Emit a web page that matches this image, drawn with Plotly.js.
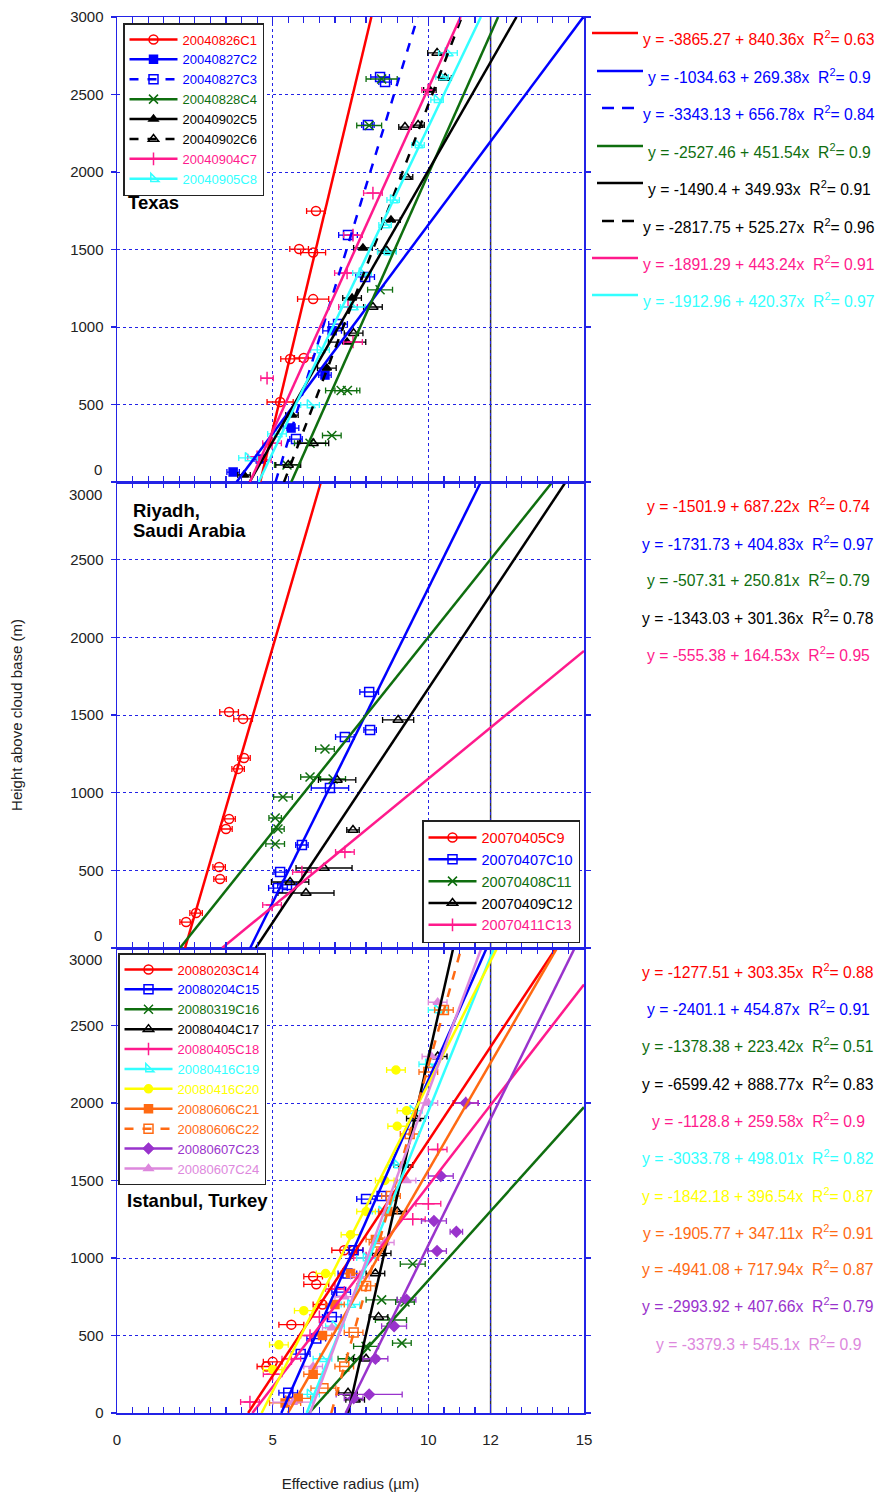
<!DOCTYPE html>
<html><head><meta charset="utf-8">
<script src="https://cdn.plot.ly/plotly-3.0.1.min.js"></script>
<style>body{margin:0;background:#fff}#chart{width:876px;height:1493px}</style>
</head><body><div id="chart"></div>
<script>
// ---------------- DATA ----------------
const xTickVals = [0, 5, 10, 12, 15];
const xTickText = ['0', '5', '10', '12', '15'];
const yTickVals = [0, 500, 1000, 1500, 2000, 2500, 3000];
const yTickText = ['0', '500', '1000', '1500', '2000', '2500', '3000'];

// Texas
const texasNames = ['20040826C1','20040827C2','20040827C3','20040828C4','20040902C5','20040902C6','20040904C7','20040905C8'];
const texasIntercepts = [-3865.27, -1034.63, -3343.13, -2527.46, -1490.4, -2817.75, -1891.29, -1912.96];
const texasSlopes = [840.36, 269.38, 656.78, 451.54, 349.93, 525.27, 443.24, 420.37];
const texasR2 = [0.63, 0.9, 0.84, 0.9, 0.91, 0.96, 0.91, 0.97];
const c1R = [5.24, 5.56, 6.0, 6.3, 5.85, 6.3, 6.39];
const c1H = [516, 794, 800, 1180, 1503, 1480, 1748];
const c1E = [0.42, 0.3, 0.3, 0.5, 0.3, 0.4, 0.3];
const c2R = [3.73, 4.6, 5.59, 6.68, 6.91];
const c2H = [64, 148, 348, 690, 975];
const c2E = [0.2, 0.2, 0.25, 0.2, 0.3];
const c3R = [5.75, 7.1, 7.97, 7.42, 8.06, 8.45, 8.61];
const c3H = [277, 1019, 1323, 1593, 2303, 2613, 2580];
const c3E = [0.2, 0.3, 0.3, 0.3, 0.2, 0.3, 0.2];
const c4R = [5.46, 6.2, 6.9, 7.2, 7.4, 8.45, 8.1, 8.5];
const c4H = [110, 250, 300, 590, 590, 1240, 2300, 2600];
const c4E = [0.4, 0.5, 0.3, 0.5, 0.4, 0.4, 0.4, 0.5];
const c5R = [4.08, 5.62, 6.74, 7.39, 7.55, 7.9, 8.8, 10.05];
const c5H = [45, 432, 735, 903, 1187, 1510, 1690, 2529];
const c5E = [0.2, 0.2, 0.3, 0.6, 0.3, 0.3, 0.3, 0.2];
const c6R = [5.5, 6.3, 7.6, 8.22, 8.67, 9.3, 9.25, 9.67, 10.54, 10.28];
const c6H = [110, 250, 960, 1129, 1490, 1968, 2290, 2303, 2606, 2768];
const c6E = [0.4, 0.5, 0.3, 0.3, 0.3, 0.2, 0.2, 0.2, 0.2, 0.3];
const c7R = [4.5, 4.75, 4.98, 4.82, 7.58, 7.42, 7.39, 7.58, 8.22, 9.99];
const c7H = [163, 142, 250, 670, 903, 1129, 1348, 1593, 1864, 2529];
const c7E = [0.3, 0.2, 0.3, 0.2, 0.3, 0.3, 0.4, 0.3, 0.3, 0.2];
const c8R = [4.21, 5.14, 6.2, 6.52, 7.58, 7.87, 8.67, 8.61, 8.87, 9.67, 10.28, 10.44, 10.63];
const c8H = [155, 310, 497, 852, 1129, 1348, 1484, 1658, 1819, 2174, 2465, 2613, 2768];
const c8E = [0.3, 0.3, 0.3, 0.3, 0.4, 0.3, 0.3, 0.2, 0.2, 0.2, 0.2, 0.2, 0.3];

// Riyadh
const riyadhNames = ['20070405C9','20070407C10','20070408C11','20070409C12','20070411C13'];
const riyadhIntercepts = [-1501.9, -1731.73, -507.31, -1343.03, -555.38];
const riyadhSlopes = [687.22, 404.83, 250.81, 301.36, 164.53];
const riyadhR2 = [0.74, 0.97, 0.79, 0.78, 0.95];
const c9R = [2.22, 2.54, 3.28, 3.31, 3.5, 3.6, 3.89, 4.08, 3.6, 4.05];
const c9H = [167, 225, 522, 444, 766, 831, 1153, 1223, 1520, 1475];
const c9E = [0.2, 0.2, 0.2, 0.2, 0.2, 0.2, 0.2, 0.2, 0.3, 0.3];
const c10R = [5.17, 5.46, 5.24, 5.94, 6.84, 7.32, 8.13, 8.1];
const c10H = [386, 406, 489, 663, 1030, 1359, 1404, 1648];
const c10E = [0.3, 0.3, 0.2, 0.2, 0.6, 0.3, 0.2, 0.3];
const c11R = [5.08, 5.08, 5.17, 5.33, 6.2, 6.94, 6.68];
const c11H = [670, 837, 766, 972, 1101, 1088, 1281];
const c11E = [0.3, 0.2, 0.2, 0.3, 0.3, 0.4, 0.3];
const c12R = [5.56, 6.07, 6.65, 7.58, 7.07, 9.03];
const c12H = [425, 354, 515, 760, 1082, 1468];
const c12E = [0.6, 0.9, 0.9, 0.2, 0.6, 0.5];
const c13R = [4.98, 5.94, 7.32];
const c13H = [277, 489, 618];
const c13E = [0.3, 0.3, 0.3];

// Istanbul
const istNames = ['20080203C14','20080204C15','20080319C16','20080404C17','20080405C18','20080416C19','20080416C20','20080606C21','20080606C22','20080607C23','20080607C24'];
const istIntercepts = [-1277.51, -2401.1, -1378.38, -6599.42, -1128.8, -3033.78, -1842.18, -1905.77, -4941.08, -2993.92, -3379.3];
const istSlopes = [303.35, 454.87, 223.42, 888.77, 259.58, 498.01, 396.54, 347.11, 717.94, 407.66, 545.1];
const istR2 = [0.88, 0.91, 0.51, 0.83, 0.9, 0.82, 0.87, 0.91, 0.87, 0.79, 0.9];
const c14R = [4.8, 5.0, 5.6, 6.3, 6.4, 6.6, 7.3, 7.6];
const c14H = [300, 330, 570, 880, 830, 700, 1050, 1050];
const c14E = [0.3, 0.3, 0.4, 0.3, 0.4, 0.3, 0.4, 0.3];
const c15R = [5.5, 5.9, 6.4, 6.9, 7.2, 7.4, 7.6, 8.0, 8.5];
const c15H = [130, 380, 480, 620, 780, 900, 1050, 1380, 1400];
const c15E = [0.3, 0.3, 0.3, 0.3, 0.3, 0.3, 0.3, 0.3, 0.3];
const c16R = [7.5, 8.0, 9.15, 8.5, 9.5, 8.8, 9.25];
const c16H = [350, 430, 451, 730, 961, 600, 716];
const c16E = [0.4, 0.4, 0.3, 0.5, 0.4, 0.5, 0.3];
const c17R = [7.65, 7.42, 8.0, 8.4, 8.3, 8.5, 9.0, 9.2, 9.6, 10.3];
const c17H = [85, 130, 350, 620, 900, 1030, 1300, 1600, 1900, 2300];
const c17E = [0.3, 0.3, 0.4, 0.3, 0.3, 0.3, 0.3, 0.3, 0.3, 0.3];
const c18R = [4.27, 5.0, 5.6, 6.2, 6.5, 7.0, 8.0, 9.5, 10.0, 10.3, 11.2];
const c18H = [71, 250, 350, 500, 620, 800, 1000, 1250, 1350, 1700, 2000];
const c18E = [0.3, 0.3, 0.3, 0.3, 0.3, 0.3, 0.4, 0.4, 0.4, 0.3, 0.4];
const c19R = [6.2, 6.6, 7.0, 7.5, 8.0, 8.5, 9.0, 9.5, 10.0, 10.3];
const c19H = [120, 350, 560, 700, 1000, 1300, 1600, 1950, 2250, 2600];
const c19E = [0.3, 0.3, 0.3, 0.3, 0.3, 0.3, 0.3, 0.3, 0.3, 0.3];
const c20R = [5.0, 5.2, 6.0, 6.7, 7.5, 8.0, 8.6, 9.0, 9.3, 8.96];
const c20H = [280, 440, 660, 900, 1150, 1300, 1500, 1850, 1950, 2213];
const c20E = [0.3, 0.3, 0.3, 0.3, 0.3, 0.3, 0.3, 0.3, 0.3, 0.3];
const c21R = [5.4, 5.82, 6.3, 6.6, 7.0, 7.5, 8.3, 8.7];
const c21H = [65, 95, 250, 500, 700, 900, 1120, 1300];
const c21E = [0.5, 0.4, 0.3, 0.3, 0.3, 0.3, 0.3, 0.3];
const c22R = [6.63, 7.3, 7.6, 8.0, 8.4, 8.8, 9.4, 10.0, 10.5];
const c22H = [160, 300, 520, 820, 1100, 1400, 1800, 2200, 2600];
const c22E = [0.4, 0.3, 0.3, 0.3, 0.3, 0.3, 0.3, 0.3, 0.3];
const c23R = [7.6, 8.1, 8.3, 8.9, 9.3, 10.28, 10.18, 10.9, 10.4, 11.2];
const c23H = [95, 120, 350, 560, 730, 1045, 1239, 1170, 1529, 2000];
const c23E = [0.3, 1.06, 0.4, 0.4, 0.3, 0.3, 0.4, 0.2, 0.4, 0.4];
const c24R = [5.65, 6.3, 6.9, 7.3, 7.8, 8.6, 9.3, 10.0, 10.1, 10.3];
const c24H = [70, 300, 550, 750, 880, 1100, 1500, 2000, 2300, 2650];
const c24E = [0.64, 0.3, 0.3, 0.3, 0.3, 0.3, 0.3, 0.3, 0.3, 0.3];

// ---------------- STYLES ----------------
const RED = '#ff0000', BLUE = '#0000ff', GREEN = '#0f6e0f', BLACK = '#000000', PINK = '#ff1a8c',
      CYAN = '#33ffff', YELLOW = '#ffff00', ORANGE = '#ff6a13', PURPLE = '#9933cc', LILAC = '#dd88dd';
const texasStyles = [
  {c: RED, s: 'circle-open', d: 'solid'}, {c: BLUE, s: 'square', d: 'solid'},
  {c: BLUE, s: 'square-open', d: 'dash'}, {c: GREEN, s: 'x-thin-open', d: 'solid'},
  {c: BLACK, s: 'triangle-up', d: 'solid'}, {c: BLACK, s: 'triangle-up-open', d: 'dash'},
  {c: PINK, s: 'cross-thin-open', d: 'solid'}, {c: CYAN, s: 'triangle-sw-open', d: 'solid'}];
const riyadhStyles = [
  {c: RED, s: 'circle-open', d: 'solid'}, {c: BLUE, s: 'square-open', d: 'solid'},
  {c: GREEN, s: 'x-thin-open', d: 'solid'}, {c: BLACK, s: 'triangle-up-open', d: 'solid'},
  {c: PINK, s: 'cross-thin-open', d: 'solid'}];
const istStyles = [
  {c: RED, s: 'circle-open', d: 'solid'}, {c: BLUE, s: 'square-open', d: 'solid'},
  {c: GREEN, s: 'x-thin-open', d: 'solid'}, {c: BLACK, s: 'triangle-up-open', d: 'solid'},
  {c: PINK, s: 'cross-thin-open', d: 'solid'}, {c: CYAN, s: 'triangle-sw-open', d: 'solid'},
  {c: YELLOW, s: 'circle', d: 'solid'}, {c: ORANGE, s: 'square', d: 'solid'},
  {c: ORANGE, s: 'square-open', d: 'dash'}, {c: PURPLE, s: 'diamond', d: 'solid'},
  {c: LILAC, s: 'triangle-up', d: 'solid'}];

const texasData = [[c1R,c1H,c1E],[c2R,c2H,c2E],[c3R,c3H,c3E],[c4R,c4H,c4E],[c5R,c5H,c5E],[c6R,c6H,c6E],[c7R,c7H,c7E],[c8R,c8H,c8E]];
const riyadhData = [[c9R,c9H,c9E],[c10R,c10H,c10E],[c11R,c11H,c11E],[c12R,c12H,c12E],[c13R,c13H,c13E]];
const istData = [[c14R,c14H,c14E],[c15R,c15H,c15E],[c16R,c16H,c16E],[c17R,c17H,c17E],[c18R,c18H,c18E],[c19R,c19H,c19E],[c20R,c20H,c20E],[c21R,c21H,c21E],[c22R,c22H,c22E],[c23R,c23H,c23E],[c24R,c24H,c24E]];

// ---------------- GEOMETRY ----------------
const W = 876, H = 1493, L = 117, R = 584, T = 17, B = 1413;
const px = v => (v - L) / (R - L);
const py = v => (B - v) / (B - T);
const FONT = 'Liberation Sans, Arial, sans-serif';
const AXC = '#2323e6';

const traces = [];
const annotations = [];
const shapes = [];

function addPanel(xa, ya, legendId, names, ints, slopes, data, styles) {
  const lineTraces = [];
  names.forEach((nm, i) => {
    const [Rr, Hh, Ee] = data[i];
    const st = styles[i];
    const xs = [], ys = [], es = [];
    Rr.forEach((v, j) => { xs.push(v, null); ys.push(Hh[j], null); es.push(Ee[j], null); });
    const open = st.s.indexOf('open') >= 0;
    traces.push({
      type: 'scatter', mode: 'lines+markers', x: xs, y: ys, xaxis: xa, yaxis: ya,
      connectgaps: false, legend: legendId,
      name: '<span style="color:' + st.c + '">' + nm + '</span>',
      line: {color: st.c, width: 2.5, dash: st.d},
      marker: {symbol: st.s, size: open ? 9 : 8, color: st.c, line: {color: st.c, width: 1.5}},
      error_x: {type: 'data', array: es, color: st.c, thickness: 1.3, width: 3},
      hoverinfo: 'skip'
    });
    const a = ints[i], b = slopes[i];
    let y0 = 0, y1 = 3000;
    let x0 = (y0 - a) / b, x1 = (y1 - a) / b;
    if (x1 > 15) { x1 = 15; y1 = a + b * 15; }
    lineTraces.push({
      type: 'scatter', mode: 'lines', x: [x0, x1], y: [y0, y1], xaxis: xa, yaxis: ya,
      showlegend: false, line: {color: st.c, width: 2.5, dash: st.d}, hoverinfo: 'skip'
    });
  });
  lineTraces.forEach(t => traces.push(t));
}

addPanel('x3', 'y3', 'legend', texasNames, texasIntercepts, texasSlopes, texasData, texasStyles);
addPanel('x2', 'y2', 'legend2', riyadhNames, riyadhIntercepts, riyadhSlopes, riyadhData, riyadhStyles);
addPanel('x', 'y', 'legend3', istNames, istIntercepts, istSlopes, istData, istStyles);

// equations
const EQ = 15.7;
function eqText(a, b, r2) {
  return 'y = ' + a + ' + ' + b + 'x&nbsp;&nbsp;R<sup>2</sup>= ' + r2;
}
const texasRows = [38, 76, 113, 151, 188, 226, 263, 300];
const texasTextX = [641, 646, 641, 646, 646, 641, 641, 641];
const texasSampleX0 = [592, 597, 602, 597, 597, 602, 592, 592];
const texasSampleX1 = [638, 643, 636, 643, 643, 636, 638, 638];
texasNames.forEach((nm, i) => {
  const st = texasStyles[i];
  annotations.push({xref: 'paper', yref: 'paper', x: px(texasTextX[i]), y: py(texasRows[i]),
    xanchor: 'left', yanchor: 'middle', showarrow: false,
    text: eqText(texasIntercepts[i], texasSlopes[i], texasR2[i]),
    font: {family: FONT, size: EQ, color: st.c}});
  shapes.push({type: 'line', xref: 'paper', yref: 'paper', x0: px(texasSampleX0[i]), x1: px(texasSampleX1[i]),
    y0: py(texasRows[i] - 5), y1: py(texasRows[i] - 5), line: {color: st.c, width: 2.5, dash: st.d === 'dash' ? '12px,8px' : 'solid'}});
});
const riyadhRows = [505, 543, 579, 617, 654];
riyadhNames.forEach((nm, i) => {
  annotations.push({xref: 'paper', yref: 'paper', x: px(758), y: py(riyadhRows[i]),
    xanchor: 'center', yanchor: 'middle', showarrow: false,
    text: eqText(riyadhIntercepts[i], riyadhSlopes[i], riyadhR2[i]),
    font: {family: FONT, size: EQ, color: riyadhStyles[i].c}});
});
const istRows = [971, 1008, 1045, 1083, 1120, 1157, 1195, 1232, 1268, 1305, 1343];
istNames.forEach((nm, i) => {
  annotations.push({xref: 'paper', yref: 'paper', x: px(758), y: py(istRows[i]),
    xanchor: 'center', yanchor: 'middle', showarrow: false,
    text: eqText(istIntercepts[i], istSlopes[i], istR2[i]),
    font: {family: FONT, size: EQ, color: istStyles[i].c}});
});

// region labels
const regionFont = {family: FONT, size: 18.5, color: '#000'};
[['Texas', 126, 202], ['Riyadh,', 131, 510], ['Saudi Arabia', 131, 530], ['Istanbul, Turkey', 125, 1200]].forEach(([t, xx, yy]) => {
  annotations.push({xref: 'paper', yref: 'paper', x: px(xx), y: py(yy), xanchor: 'left', yanchor: 'middle',
    showarrow: false, text: '<b>' + t + '</b>', font: regionFont});
});

// shifted end tick labels
const tickFont = {family: FONT, size: 15, color: '#222'};
[[469, yTickText[0]], [935, yTickText[0]], [494, yTickText[6]], [960, yTickText[6]]].forEach(([yy, t]) => {
  annotations.push({xref: 'paper', yref: 'paper', x: px(104), y: py(yy), xanchor: 'right', yanchor: 'middle',
    showarrow: false, text: t, font: tickFont});
});

// vertical line at 12
shapes.push({type: 'line', xref: 'x', yref: 'paper', x0: 12, x1: 12, y0: 0, y1: 1, layer: 'between',
  line: {color: '#333', width: 1.5}});

const minorVals = [];
for (let v = 0; v <= 15; v += 0.5) minorVals.push(v);

function xAxis(anchor, showLabels) {
  return {
    anchor: anchor, range: [0, 15], showline: true, linecolor: AXC, linewidth: 1.5, mirror: 'ticks',
    tickmode: 'array', tickvals: xTickVals, ticktext: showLabels ? xTickText : xTickVals.map(() => ''),
    ticks: 'inside', ticklen: 6, tickcolor: AXC, tickwidth: 1.2,
    showgrid: true, gridcolor: AXC, griddash: 'dot', gridwidth: 1, zeroline: false,
    minor: {tickmode: 'array', tickvals: minorVals, ticks: 'inside', ticklen: 6, tickcolor: AXC, tickwidth: 1.2, showgrid: false},
    tickfont: tickFont, ticklabelstandoff: 12, fixedrange: true
  };
}
function yAxis(anchor, domain, texts) {
  return {
    anchor: anchor, domain: domain, range: [0, 3000], showline: true, linecolor: AXC, linewidth: 1.5, mirror: 'ticks',
    tickmode: 'array', tickvals: yTickVals, ticktext: texts,
    ticks: 'outside', ticklen: 5, tickcolor: AXC, tickwidth: 1.2,
    showgrid: true, gridcolor: AXC, griddash: 'dot', gridwidth: 1, zeroline: false,
    tickfont: tickFont, ticklabelstandoff: 4, fixedrange: true
  };
}
const d1 = py(482), d2 = py(948);

const legendBase = {bgcolor: '#fff', bordercolor: '#222', borderwidth: 1.5, itemwidth: 48,
  font: {family: FONT, size: 13}, xref: 'paper', yref: 'paper', tracegroupgap: 0, itemclick: false};

const layout = {
  width: W, height: H, paper_bgcolor: '#fff', plot_bgcolor: '#fff',
  margin: {l: L, r: W - R, t: T, b: H - B},
  font: {family: FONT},
  xaxis: Object.assign(xAxis('y', true), {
    title: {text: 'Effective radius (µm)', font: {family: FONT, size: 15, color: '#222'}, standoff: 32}}),
  xaxis2: xAxis('y2', false),
  xaxis3: xAxis('y3', false),
  yaxis: yAxis('x', [0, d2], yTickText.map((t, i) => i === 6 ? '' : t)),
  yaxis2: Object.assign(yAxis('x2', [d2, d1], yTickText.map((t, i) => (i === 0 || i === 6) ? '' : t)), {
    title: {text: 'Height above cloud base (m)', font: {family: FONT, size: 15, color: '#222'}, standoff: 44}}),
  yaxis3: yAxis('x3', [d1, 1], yTickText.map((t, i) => i === 0 ? '' : t)),
  legend: Object.assign({}, legendBase, {x: px(123), y: py(23), xanchor: 'left', yanchor: 'top'}),
  legend2: Object.assign({}, legendBase, {x: px(580), y: py(943), xanchor: 'right', yanchor: 'bottom',
    font: {family: FONT, size: 14.5}}),
  legend3: Object.assign({}, legendBase, {x: px(118), y: py(953), xanchor: 'left', yanchor: 'top'}),
  annotations: annotations,
  shapes: shapes,
  showlegend: true
};

Plotly.newPlot('chart', traces, layout, {displayModeBar: false, staticPlot: true});
</script></body></html>
